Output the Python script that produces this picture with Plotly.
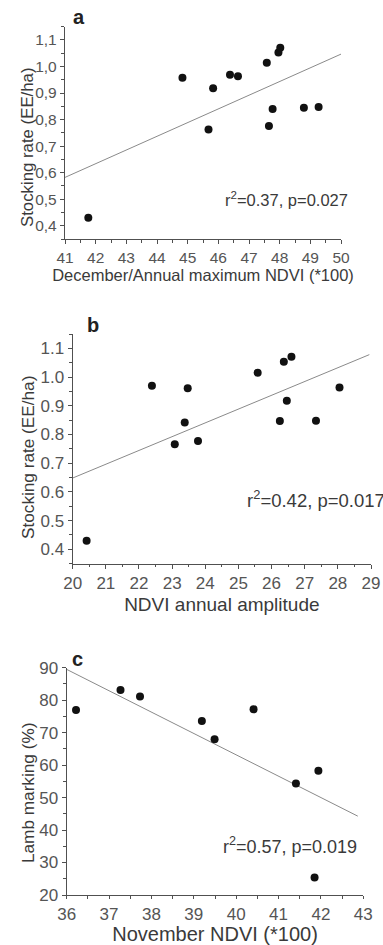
import numpy as np
import plotly.graph_objects as go

# ---------------- data ----------------
# Panel a
a_x = [41.76, 44.83, 45.68, 45.83, 46.38, 46.64, 47.58, 47.65, 47.77, 47.96, 48.02, 48.79, 49.27]
a_y = [0.43, 0.958, 0.763, 0.918, 0.969, 0.963, 1.014, 0.776, 0.840, 1.053, 1.071, 0.845, 0.847]
a_fit_x = [41, 50]
a_yticks = [0.4, 0.5, 0.6, 0.7, 0.8, 0.9, 1.0, 1.1]
a_yticklabels = ["0,4", "0,5", "0,6", "0,7", "0,8", "0,9", "1,0", "1,1"]
a_xticks = [41, 42, 43, 44, 45, 46, 47, 48, 49, 50]

# Panel b
b_x = [20.42, 22.39, 23.08, 23.38, 23.47, 23.78, 25.58, 26.25, 26.37, 26.46, 26.60, 27.34, 28.05]
b_y = [0.43, 0.970, 0.766, 0.842, 0.961, 0.777, 1.015, 0.847, 1.053, 0.917, 1.071, 0.848, 0.964]
b_fit_x = [20, 28.95]
b_yticks = [0.4, 0.5, 0.6, 0.7, 0.8, 0.9, 1.0, 1.1]
b_yticklabels = ["0.4", "0.5", "0.6", "0.7", "0.8", "0.9", "1.0", "1.1"]
b_xticks = [20, 21, 22, 23, 24, 25, 26, 27, 28, 29]

# Panel c
c_x = [36.22, 37.27, 37.73, 39.19, 39.49, 40.41, 41.41, 41.94, 41.85]
c_y = [77.0, 83.1, 81.1, 73.6, 68.0, 77.2, 54.3, 58.3, 25.4]
c_fit_x = [36, 42.87]
c_yticks = [20, 30, 40, 50, 60, 70, 80, 90]
c_xticks = [36, 37, 38, 39, 40, 41, 42, 43]

# ---------------- figure ----------------
W, H = 383, 945
FONT = "Liberation Sans, Arial, sans-serif"
AXC = "#505050"
TXT = "#3a3a3a"


def fit(xs, ys, xe):
    k, b = np.polyfit(xs, ys, 1)
    return [k * v + b for v in xe]


fig = go.Figure()

panels = [
    dict(x=a_x, y=a_y, fx=a_fit_x, ax="x", ay="y"),
    dict(x=b_x, y=b_y, fx=b_fit_x, ax="x2", ay="y2"),
    dict(x=c_x, y=c_y, fx=c_fit_x, ax="x3", ay="y3"),
]
for p in panels:
    fig.add_trace(go.Scatter(x=p["fx"], y=fit(p["x"], p["y"], p["fx"]), mode="lines",
                             line=dict(color="#8a8a8a", width=1), xaxis=p["ax"], yaxis=p["ay"],
                             showlegend=False, hoverinfo="skip", cliponaxis=False))
    fig.add_trace(go.Scatter(x=p["x"], y=p["y"], mode="markers",
                             marker=dict(color="#111111", size=8), xaxis=p["ax"], yaxis=p["ay"],
                             showlegend=False, cliponaxis=False))


def px_dom_x(l, r):
    return [l / W, r / W]


def px_dom_y(top, bot):
    return [1 - bot / H, 1 - top / H]


def axis_common(size):
    return dict(showline=True, linecolor=AXC, linewidth=1.3, ticks="outside", ticklen=4,
                tickwidth=1.2, tickcolor=AXC, showgrid=False, zeroline=False, automargin=False,
                tickfont=dict(family=FONT, size=size, color="#555555"),
                minor=dict(ticks="outside", ticklen=2.5, tickwidth=1, tickcolor=AXC, showgrid=False))


lay = dict(
    width=W, height=H, margin=dict(l=0, r=0, t=0, b=0, autoexpand=False),
    paper_bgcolor="white", plot_bgcolor="white", showlegend=False,
    font=dict(family=FONT, color=TXT),
)

# panel a
lay["xaxis"] = dict(axis_common(15.5), domain=px_dom_x(65, 341), range=[41, 50], tickvals=a_xticks,
                    anchor="y", minor_dtick=0.5,
                    title=dict(text="December/Annual maximum NDVI (*100)", font=dict(size=16.5, color=TXT), standoff=4))
lay["yaxis"] = dict(axis_common(15.5), domain=px_dom_y(26.7, 239), range=[0.35, 1.15], tickvals=a_yticks,
                    ticktext=a_yticklabels, anchor="x", minor_dtick=0.05)
# panel b
lay["xaxis2"] = dict(axis_common(17), domain=px_dom_x(72.7, 371), range=[20, 29], tickvals=b_xticks,
                     anchor="y2", minor_dtick=0.5,
                     title=dict(text="NDVI annual amplitude", font=dict(size=19, color=TXT), standoff=5))
lay["yaxis2"] = dict(axis_common(17), domain=px_dom_y(334, 563.6), range=[0.35, 1.15], tickvals=b_yticks,
                     ticktext=b_yticklabels, anchor="x2", minor_dtick=0.05)
# panel c
lay["xaxis3"] = dict(axis_common(17), domain=px_dom_x(66.7, 363.3), range=[36, 43], tickvals=c_xticks,
                     anchor="y3", minor_dtick=0.5, ticklen=3,
                     title=dict(text="November NDVI (*100)", font=dict(size=20, color=TXT), standoff=4))
lay["yaxis3"] = dict(axis_common(17), domain=px_dom_y(667.7, 895), range=[20, 90], tickvals=c_yticks,
                     anchor="x3", minor_dtick=5)

fig.update_layout(**lay)

# y-axis titles
ytitles = [("Stocking rate (EE/ha)", 27, 147, 16.8),
           ("Stocking rate (EE/ha)", 28, 458, 17.2),
           ("Lamb marking (%)", 28, 793, 17.2)]
for txt, xp, yp, fs in ytitles:
    fig.add_annotation(text=txt, xref="paper", yref="paper", x=xp / W, y=1 - yp / H,
                       xanchor="center", yanchor="middle", textangle=-90, showarrow=False,
                       font=dict(size=fs, color=TXT, family=FONT))

# panel letters
for letter, xp, yp in [("a", 79, 17), ("b", 93, 325), ("c", 77, 659)]:
    fig.add_annotation(text="<b>%s</b>" % letter, xref="paper", yref="paper", x=xp / W, y=1 - yp / H,
                       xanchor="center", yanchor="middle", showarrow=False,
                       font=dict(size=20, color="#222222", family=FONT))

# statistics
fig.add_annotation(text="r<sup>2</sup>=0.37, p=0.027", xref="x", yref="y", x=46.16, y=0.5,
                   xanchor="left", showarrow=False, font=dict(size=16.5, color=TXT, family=FONT))
fig.add_annotation(text="r<sup>2</sup>=0.42, p=0.017", xref="x2", yref="y2", x=25.2, y=0.574,
                   xanchor="left", showarrow=False, font=dict(size=18.5, color=TXT, family=FONT))
fig.add_annotation(text="r<sup>2</sup>=0.57, p=0.019", xref="x3", yref="y3", x=39.65, y=35.3,
                   xanchor="left", showarrow=False, font=dict(size=18, color=TXT, family=FONT))

fig.write_html("out.html", config={"displayModeBar": False},
               post_script="document.body.style.margin='0';document.body.style.padding='0';"
                           "document.body.style.overflow='hidden';")
